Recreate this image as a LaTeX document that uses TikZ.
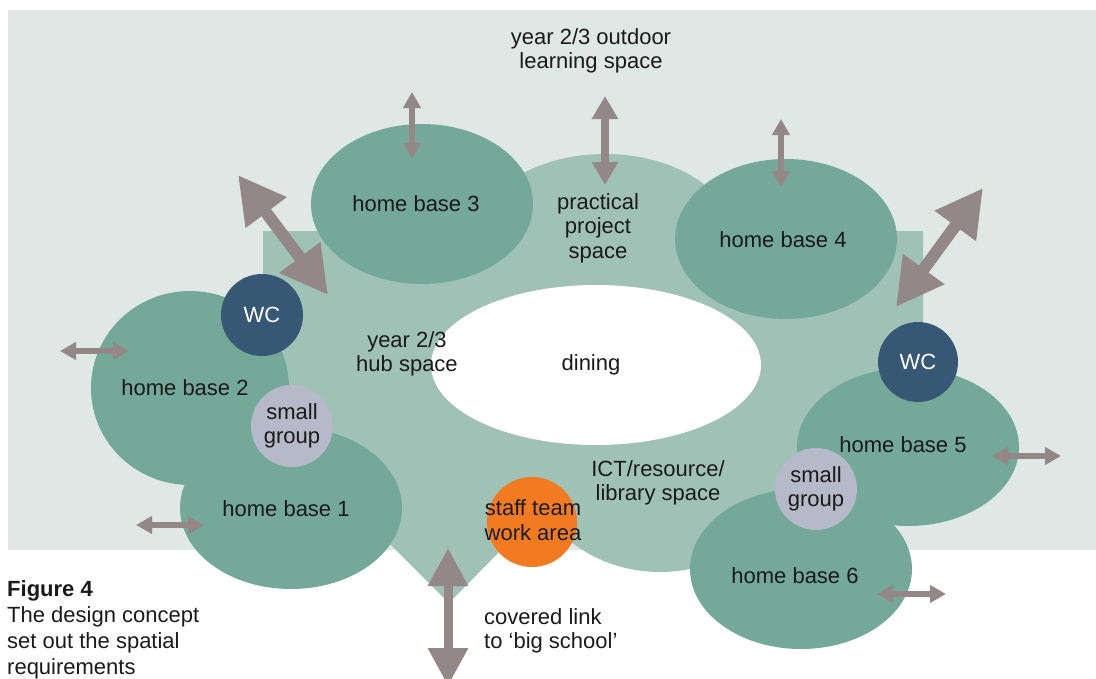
\documentclass[tikz,border=0pt]{standalone}
\usepackage{fontspec}
\setmainfont{Liberation Sans}
\usetikzlibrary{shapes.geometric,arrows.meta}
\definecolor{bgc}{HTML}{DFE8E4}
\definecolor{hubc}{HTML}{A0C1B6}
\definecolor{homec}{HTML}{74A898}
\definecolor{wcc}{HTML}{375875}
\definecolor{sgc}{HTML}{B6B9C7}
\definecolor{staffc}{HTML}{F27B22}
\definecolor{arrc}{HTML}{938887}
\definecolor{txt}{HTML}{1A1A1A}
\begin{document}
\begin{tikzpicture}[x=1pt,y=-1pt,
  every node/.style={font=\fontsize{22}{24.5}\selectfont, text=txt, inner sep=0pt, align=center},
  homebase/.style={ellipse, fill=homec, minimum width=222pt, minimum height=160pt},
  region/.style={ellipse, fill=hubc},
  wcdisc/.style={circle, fill=wcc, text=white, minimum size=82pt},
  sgdisc/.style={circle, fill=sgc, minimum size=82pt},
  staffdisc/.style={circle, fill=staffc, minimum size=90pt},
  bigarrow/.style={draw=arrc, line width=12pt, {Triangle[length=47pt,width=48pt]}-{Triangle[length=47pt,width=48pt]}},
  midarrow/.style={draw=arrc, line width=9pt, {Triangle[length=38pt,width=38pt]}-{Triangle[length=38pt,width=38pt]}},
  medarrow/.style={draw=arrc, line width=8pt, {Triangle[length=23pt,width=25pt]}-{Triangle[length=23pt,width=25pt]}},
  smallarrow/.style={draw=arrc, line width=5.5pt, {Triangle[length=16pt,width=17pt]}-{Triangle[length=16pt,width=17pt]}}
]
\useasboundingbox (0,0) rectangle (1096,678);
\clip (0,0) rectangle (1096,678);
% backgrounds
\fill[bgc] (8,10) rectangle (1096,550);
\fill[hubc] (263,231) -- (923,231) -- (923,490) -- (560,490) -- (449,603) -- (330,484) -- (263,484) -- cycle;
\node[region, minimum width=260pt, minimum height=172pt] (practical) at (605,240) {};
\node[region, minimum width=260pt, minimum height=224pt] (ict) at (660,460) {};
% home bases
\node[homebase] (hb3) at (422,204) {};
\node[homebase] (hb4) at (786,239) {};
\node[homebase, minimum width=198pt, minimum height=194pt] (hb2) at (190,388) {};
\node[homebase, minimum height=162pt] (hb1) at (291,508) {};
\node[homebase, minimum height=158pt] (hb5) at (908,447) {};
\node[homebase] (hb6) at (801,569) {};
\node (hb3txt) at (416,204) {home base 3};
\node (hb4txt) at (783,240) {home base 4};
\node (hb2txt) at (185,388) {home base 2};
\node (hb1txt) at (286,509) {home base 1};
\node (hb5txt) at (903,445) {home base 5};
\node (hb6txt) at (795,576) {home base 6};
% dining
\node[ellipse, fill=white, minimum width=330pt, minimum height=160pt] (dining) at (596,365) {};
\node (diningtxt) at (591,365) {dining};
% discs
\node[wcdisc] (wc1) at (262,315) {WC};
\node[wcdisc, minimum size=80pt] (wc2) at (918,362) {WC};
\node[sgdisc] (sg1) at (292,426) {small\\group};
\node[sgdisc] (sg2) at (816,489) {small\\group};
\node[staffdisc] (staff) at (532,522) {};
\node (stafftxt) at (533,520) {staff team\\work area};
% region labels
\node (outdoor) at (591,51) {year 2/3 outdoor\\learning space};
\node (hubtxt) at (407,354) {year 2/3\\hub space};
\node (practxt) at (598,228) {practical\\project\\space};
\node (icttxt) at (658,483) {ICT/resource/\\library space};
\node[anchor=west, align=left] (linktxt) at (484,631) {covered link\\to ‘big school’};
\node[anchor=west, align=left, font=\fontsize{22}{26}\selectfont] (caption) at (7,630) {\textbf{Figure 4}\\The design concept\\set out the spatial\\requirements};
% arrows
\coordinate (a1s) at (238,175); \coordinate (a1e) at (328,295);
\coordinate (a2s) at (983,188); \coordinate (a2e) at (896,307);
\coordinate (a3s) at (448,548); \coordinate (a3e) at (448,686);
\coordinate (a4s) at (605,96);  \coordinate (a4e) at (605,185);
\coordinate (a5s) at (412,92);  \coordinate (a5e) at (412,159);
\coordinate (a6s) at (781,119); \coordinate (a6e) at (781,187);
\coordinate (a7s) at (60,351);  \coordinate (a7e) at (129,351);
\coordinate (a8s) at (136,525); \coordinate (a8e) at (204,525);
\coordinate (a9s) at (992,456); \coordinate (a9e) at (1061,456);
\coordinate (a10s) at (877,594); \coordinate (a10e) at (946,594);
\draw[bigarrow] (a1s) -- (a1e);
\draw[bigarrow] (a2s) -- (a2e);
\draw[midarrow] (a3s) -- (a3e);
\draw[medarrow] (a4s) -- (a4e);
\draw[smallarrow] (a5s) -- (a5e);
\draw[smallarrow] (a6s) -- (a6e);
\draw[smallarrow] (a7s) -- (a7e);
\draw[smallarrow] (a8s) -- (a8e);
\draw[smallarrow] (a9s) -- (a9e);
\draw[smallarrow] (a10s) -- (a10e);
\end{tikzpicture}
\end{document}
